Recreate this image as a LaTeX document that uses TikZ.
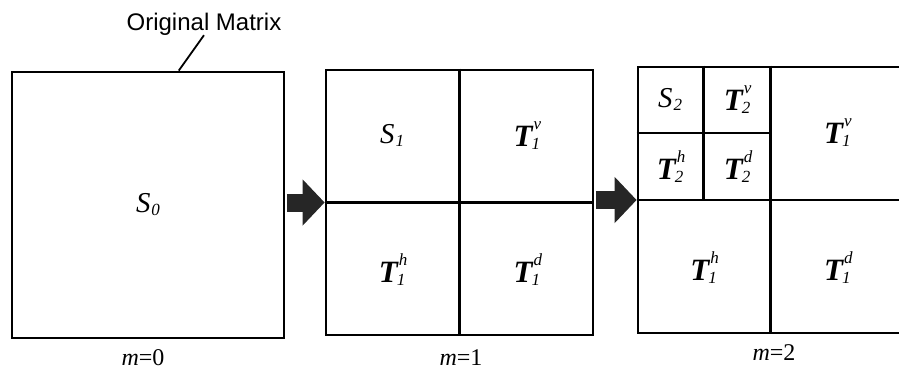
\documentclass[tikz,border=0pt]{standalone}
\usepackage{fontspec}
\setmainfont{Liberation Serif}
\setsansfont{Liberation Sans}
\usetikzlibrary{arrows.meta, positioning, calc}
\definecolor{c1}{HTML}{000000}
\definecolor{c2}{HTML}{262626}

% coefficient labels
\newcommand{\idx}[1]{{\fontsize{17}{17}\selectfont\itshape #1}}
\newcommand{\Sco}[1]{\textit{S}\kern1pt\raisebox{-3pt}{\idx{#1}}}
\newcommand{\Tco}[2]{{\fontsize{31}{34}\selectfont\textit{\textbf{T}}}%
  \rlap{\raisebox{17pt}{\idx{#1}}}\kern-2pt\raisebox{-3pt}{\idx{#2}}}

\begin{document}
\begin{tikzpicture}[
    x=1pt, y=-1pt,
    every node/.style={font=\fontsize{28.8}{32}\selectfont},
    mat/.style={rectangle, draw=c1, line width=2.8pt, inner sep=0pt},
    div/.style={draw=c1, line width=2.4pt},
    blk/.style={-{Triangle[length=22pt, width=45pt]}, line width=18pt, color=c2, shorten <=1.4pt},
    lvl/.style={font=\fontsize{24}{26}\selectfont, anchor=base},
    lead/.style={draw=c1, line width=1.8pt},
]
\useasboundingbox (0,0) rectangle (899,370);

% ================================================================ m = 0
\node[mat, minimum width=272pt, minimum height=266pt] (s0) at (148,205) {\Sco{0}};
\node[font=\sffamily\fontsize{24}{28}\selectfont, anchor=base, inner sep=0pt] (om) at (204,30) {Original Matrix};
\coordinate (om-foot) at ($(s0.north west)!0.612!(s0.north east)$);
\draw[lead] (om-foot) -- (om.south);
\node[lvl] at (143,365) {\textit{m}=0};

% ================================================================ m = 1
\node[mat, minimum width=267pt, minimum height=265pt] (m1) at (459.5,202.5) {};
\draw[div] (m1.north) -- (m1.south);
\draw[div] (m1.west) -- (m1.east);
\node (s1)  at ($(m1.center)!0.5!(m1.north west)$) {\Sco{1}};
\node (t1v) at ($(m1.center)!0.5!(m1.north east)$) {\Tco{v}{1}};
\node (t1h) at ($(m1.center)!0.5!(m1.south west)$) {\Tco{h}{1}};
\node (t1d) at ($(m1.center)!0.5!(m1.south east)$) {\Tco{d}{1}};
\node[lvl] at (461,365) {\textit{m}=1};

% ================================================================ m = 2
\node[mat, minimum width=265pt, minimum height=266pt] (m2) at (770.5,200) {};
\draw[div] (m2.north) -- (m2.south);
\draw[div] (m2.west) -- (m2.east);
% the top left quarter split once more
\draw[div] ($(m2.north west)!0.5!(m2.north)$) -- ($(m2.west)!0.5!(m2.center)$);
\draw[div] ($(m2.north west)!0.5!(m2.west)$) -- ($(m2.north)!0.5!(m2.center)$);
\coordinate (q2) at ($(m2.center)!0.5!(m2.north west)$);
\node (s2)  at ($(q2)!0.5!(m2.north west)$) {\Sco{2}};
\node (t2v) at ($(q2)!0.5!(m2.north)$) {\Tco{v}{2}};
\node (t2h) at ($(q2)!0.5!(m2.west)$) {\Tco{h}{2}};
\node (t2d) at ($(q2)!0.5!(m2.center)$) {\Tco{d}{2}};
\node (u1v) at ($(m2.center)!0.5!(m2.north east)$) {\Tco{v}{1}};
\node (u1h) at ($(m2.center)!0.5!(m2.south west)$) {\Tco{h}{1}};
\node (u1d) at ($(m2.center)!0.5!(m2.south east)$) {\Tco{d}{1}};
\node[lvl] at (774,360) {\textit{m}=2};

% ================================================================ steps
\draw[blk] (s0.east |- m1.west) -- (m1.west);
\draw[blk] (m1.east |- m2.west) -- (m2.west);

\end{tikzpicture}
\end{document}
